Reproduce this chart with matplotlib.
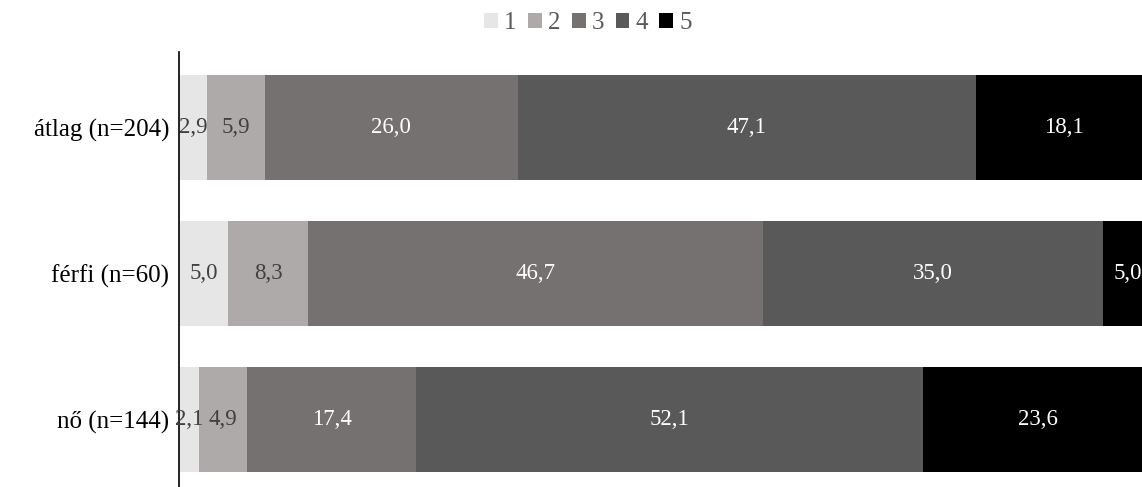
import matplotlib.pyplot as plt
import numpy as np

plt.rcParams['font.family'] = ['Liberation Serif', 'DejaVu Serif']

categories = ['átlag (n=204)', 'férfi (n=60)', 'nő (n=144)']
series = ['1', '2', '3', '4', '5']
values = [
    [2.9, 5.0, 2.1],
    [5.9, 8.3, 4.9],
    [26.0, 46.7, 17.4],
    [47.1, 35.0, 52.1],
    [18.1, 5.0, 23.6],
]
colors = ['#E6E6E6', '#AEAAAA', '#767171', '#595959', '#000000']
text_colors = ['#404040', '#404040', 'white', 'white', 'white']

fig = plt.figure(figsize=(11.42, 4.87), dpi=100)
ax = fig.add_axes([179 / 1142, 0, 973 / 1142, 435 / 487])

y = np.arange(len(categories))
left = np.zeros(len(categories))
for s, vals, c, tc in zip(series, values, colors, text_colors):
    vals = np.array(vals)
    ax.barh(y, vals, left=left, height=0.72, color=c, label=s)
    for yi, l, v in zip(y, left, vals):
        ax.text(l + v / 2, yi, f'{v:.1f}'.replace('.', ','), ha='center', va='center',
                color=tc, fontsize=16.5)
    left += vals

ax.set_xlim(0, 100)
ax.set_ylim(2.46, -0.52)
ax.set_yticks(y)
ax.set_yticklabels(categories, fontsize=18)
ax.tick_params(axis='y', length=0, pad=7)
ax.set_xticks([])
for sp in ['top', 'right', 'bottom']:
    ax.spines[sp].set_visible(False)
ax.spines['left'].set_linewidth(1.2)

fig.legend(loc='center', bbox_to_anchor=(588 / 1142, 1 - 23 / 487), ncol=5, frameon=False,
           fontsize=18, handlelength=0.55, handleheight=0.55, handletextpad=0.25,
           columnspacing=0.45, labelcolor='#595959')

fig.savefig('out.png', dpi=100)
